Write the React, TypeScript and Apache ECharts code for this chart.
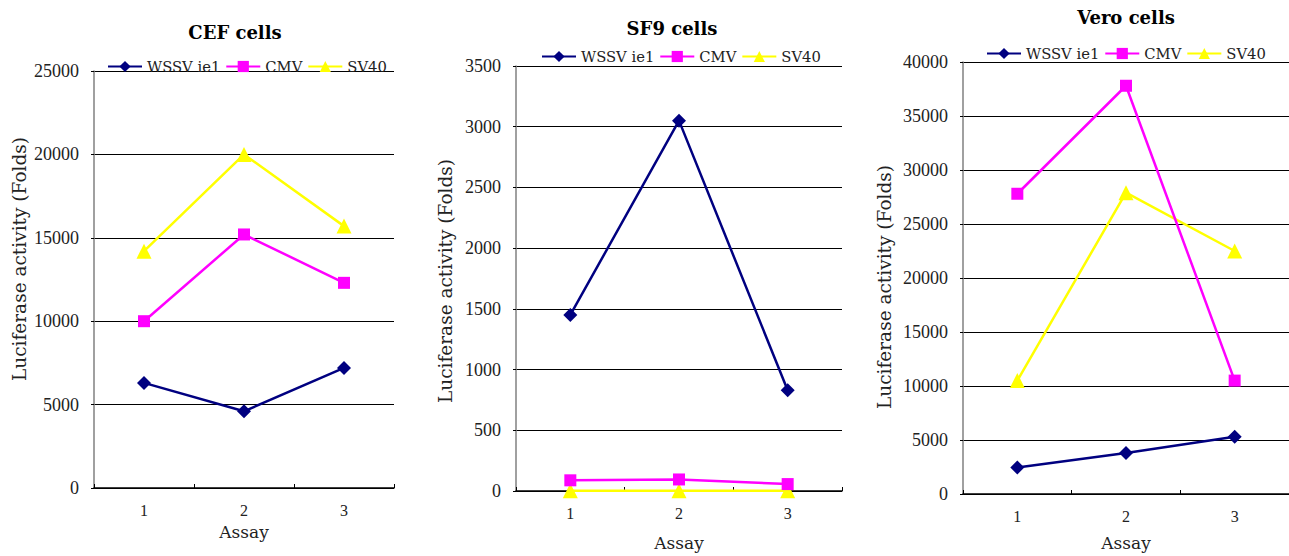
import React, { useEffect, useRef } from "react";
import * as echarts from "echarts";

const assays = ["1", "2", "3"];
const seriesNames = ["WSSV ie1", "CMV", "SV40"];
const panelTitles = ["CEF cells", "SF9 cells", "Vero cells"];
const yAxisName = "Luciferase activity (Folds)";
const xAxisName = "Assay";

// CEF cells
const cefWssv = [6300, 4600, 7200];
const cefCmv = [10000, 15200, 12300];
const cefSv40 = [14200, 20000, 15700];
// SF9 cells
const sf9Wssv = [1450, 3050, 830];
const sf9Cmv = [88, 95, 57];
const sf9Sv40 = [2, 2, 2];
// Vero cells
const veroWssv = [2450, 3800, 5300];
const veroCmv = [27800, 37800, 10500];
const veroSv40 = [10500, 27900, 22500];

const yMax = [25000, 3500, 40000];
const yStep = [5000, 500, 5000];

const colors = ["#000080", "#FF00FF", "#FFFF00"];
const symbols = ["diamond", "rect", "triangle"];
const symbolSizes = [14, 12, 15];

const panelData = [
  [cefWssv, cefCmv, cefSv40],
  [sf9Wssv, sf9Cmv, sf9Sv40],
  [veroWssv, veroCmv, veroSv40],
];

// layout
const grids = [
  { left: 94, top: 71, width: 300, height: 417 },
  { left: 516, top: 66, width: 326, height: 427 },
  { left: 963, top: 62, width: 326, height: 432 },
];
const titlePos = [
  [235, 32],
  [672, 28],
  [1126, 17],
];
const legendPos = [
  [102, 54],
  [536, 44],
  [981, 41],
];
const yNamePos = [
  [19.5, 259],
  [445.5, 281],
  [884.5, 287],
];
const xNameGap = [35, 43, 40];

const SERIF = "Liberation Serif";
const WIDE = "DejaVu Serif";

export default function App() {
  const ref = useRef<HTMLDivElement>(null);
  useEffect(() => {
    if (!ref.current) return;
    const chart = echarts.init(ref.current, undefined, { renderer: "svg" });

    const series: any[] = [];
    panelData.forEach((pd, p) => {
      pd.forEach((vals, s) => {
        series.push({
          type: "line",
          name: seriesNames[s],
          xAxisIndex: p,
          yAxisIndex: p,
          data: vals,
          symbol: symbols[s],
          symbolSize: symbolSizes[s],
          clip: false,
          lineStyle: { color: colors[s], width: 2.5 },
          itemStyle: { color: colors[s] },
          z: 10 - s,
        });
      });
    });

    const titles = panelTitles.map((t, i) => ({
      type: "text",
      x: titlePos[i][0],
      y: titlePos[i][1],
      style: {
        text: t,
        textAlign: "center",
        textVerticalAlign: "middle",
        fontFamily: WIDE,
        fontWeight: "bold",
        fontSize: 18,
        fill: "#000",
      },
    }));
    const yNames = yNamePos.map((p) => ({
      type: "text",
      x: p[0],
      y: p[1],
      rotation: Math.PI / 2,
      style: {
        text: yAxisName,
        textAlign: "center",
        textVerticalAlign: "middle",
        fontFamily: WIDE,
        fontSize: 18.5,
        fill: "#222",
      },
    }));

    chart.setOption({
      animation: false,
      backgroundColor: "#ffffff",
      graphic: [...titles, ...yNames],
      legend: legendPos.map((lp) => ({
        left: lp[0],
        top: lp[1],
        data: seriesNames,
        itemWidth: 34,
        itemHeight: 14,
        itemGap: 5,
        selectedMode: false,
        textStyle: { fontFamily: WIDE, fontSize: 14.75, color: "#222" },
      })),
      grid: grids.map((g) => ({ ...g })),
      xAxis: grids.map((_, i) => ({
        type: "category",
        gridIndex: i,
        data: assays,
        boundaryGap: true,
        name: xAxisName,
        nameLocation: "middle",
        nameGap: xNameGap[i],
        nameTextStyle: { fontFamily: WIDE, fontSize: 17, color: "#222" },
        axisLine: { show: true, lineStyle: { color: "#000", width: 1.5 } },
        axisTick: { show: true, inside: true, length: 4, lineStyle: { color: "#000" } },
        axisLabel: { margin: 14, fontFamily: SERIF, fontSize: 16, color: "#222" },
        splitLine: { show: false },
      })),
      yAxis: grids.map((_, i) => ({
        type: "value",
        gridIndex: i,
        min: 0,
        max: yMax[i],
        interval: yStep[i],
        axisLine: { show: true, lineStyle: { color: "#808080", width: 1.5 } },
        axisTick: { show: true, length: 3, lineStyle: { color: "#000" } },
        axisLabel: {
          margin: 15,
          fontFamily: SERIF,
          fontSize: 18,
          color: "#222",
          formatter: (v: number) => String(v),
        },
        splitLine: { show: true, lineStyle: { color: "#000", width: 1 } },
      })),
      series,
    });

    return () => chart.dispose();
  }, []);

  return (
    <div
      ref={ref}
      style={{ position: "fixed", left: 0, top: 0, width: 1289, height: 556, background: "#fff" }}
    />
  );
}
